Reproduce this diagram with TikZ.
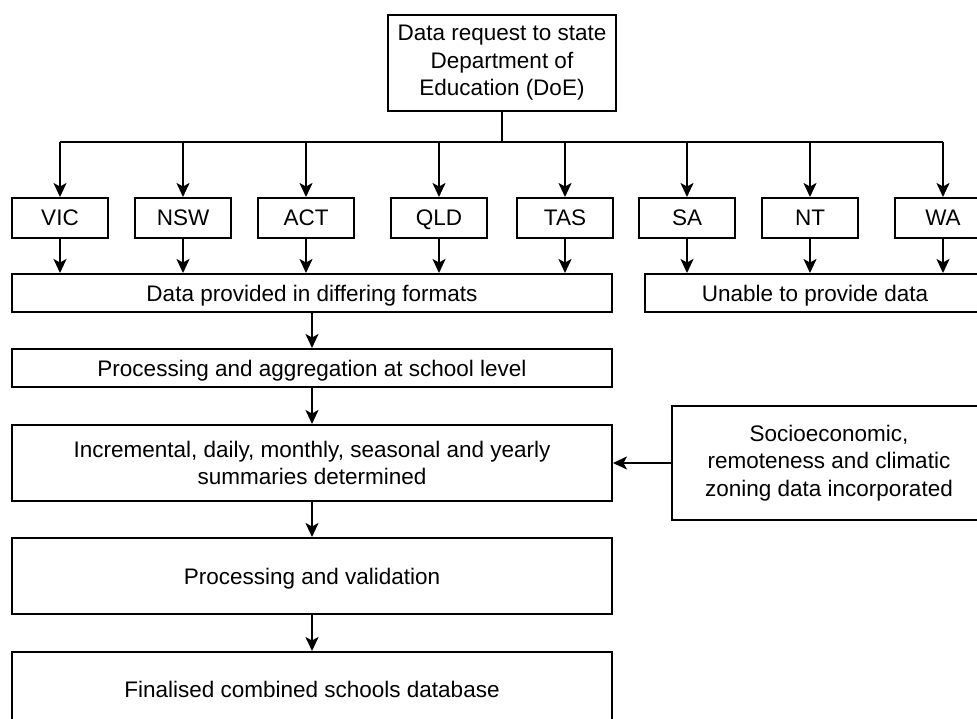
\documentclass[tikz,border=0pt]{standalone}
\usepackage{fontspec}
\setmainfont{Liberation Sans}
\usetikzlibrary{arrows.meta}
\begin{document}
\begin{tikzpicture}[x=1pt,y=-1pt,
  box/.style={draw, line width=2pt, align=center, inner sep=0pt, anchor=center,
    font=\fontsize{22.5}{27.5}\selectfont},
  single/.style={box, text depth=0pt},
  conn/.style={line width=2pt},
  arr/.style={conn, -{Stealth[length=14pt,width=13pt,inset=3.5pt]}}]
\useasboundingbox (0,0) rectangle (977,719);
\node[box, minimum width=228pt, minimum height=96pt] (top) at (502,63) {Data request to state\\Department of\\Education (DoE)};
\coordinate (bus) at (502,142);
\foreach \n/\t/\x in {vic/VIC/60, nsw/NSW/183, act/ACT/306, qld/QLD/439, tas/TAS/565, sa/SA/687, nt/NT/810, wa/WA/943}
  \node[single, minimum width=96pt, minimum height=40pt] (\n) at (\x,218) {\t};
\node[single, minimum width=600pt, minimum height=38pt] (data) at (312,293) {Data provided in differing formats};
\node[single, minimum width=340pt, minimum height=38pt] (unable) at (815,293) {Unable to provide data};
\node[single, minimum width=600pt, minimum height=38pt] (agg) at (312,368) {Processing and aggregation at school level};
\node[box, minimum width=600pt, minimum height=76pt] (incr) at (312,463) {Incremental, daily, monthly, seasonal and yearly\\summaries determined};
\node[box, minimum width=314pt, minimum height=114pt] (side) at (829,463) {Socioeconomic,\\remoteness and climatic\\zoning data incorporated};
\node[single, minimum width=600pt, minimum height=76pt] (valid) at (312,576) {Processing and validation};
\node[single, minimum width=600pt, minimum height=74pt] (final) at (312,689) {Finalised combined schools database};
\draw[conn] (top.south) -- (bus);
\draw[conn] (vic.north |- bus) -- (wa.north |- bus);
\foreach \n in {vic,nsw,act,qld,tas,sa,nt,wa}
  \draw[arr] (\n.north |- bus) -- (\n.north);
\foreach \n in {vic,nsw,act,qld,tas}
  \draw[arr] (\n.south) -- (\n.south |- data.north);
\foreach \n in {sa,nt,wa}
  \draw[arr] (\n.south) -- (\n.south |- unable.north);
\draw[arr] (data.south) -- (data.south |- agg.north);
\draw[arr] (agg.south) -- (agg.south |- incr.north);
\draw[arr] (incr.south) -- (incr.south |- valid.north);
\draw[arr] (valid.south) -- (valid.south |- final.north);
\draw[arr] (side.west) -- (side.west -| incr.east);
\end{tikzpicture}
\end{document}
